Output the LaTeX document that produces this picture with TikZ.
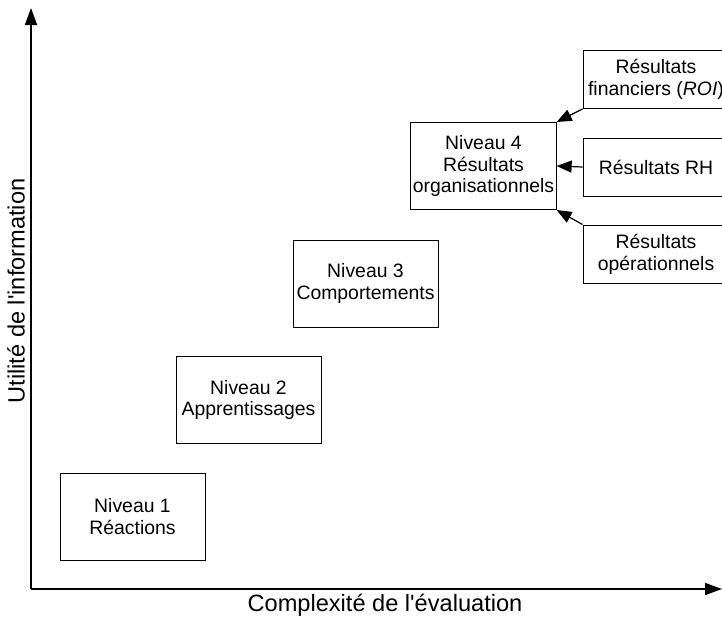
\documentclass[tikz,border=0pt]{standalone}
\usepackage{fontspec}
\setmainfont{Liberation Sans}
\usepackage{tikz}
\usetikzlibrary{arrows.meta, positioning}
\tikzset{
  boite/.style={draw, line width=0.5pt, align=center, minimum width=72.5pt, minimum height=43.5pt, inner sep=1pt, font=\fontsize{9.7}{10.9}\selectfont},
  petite/.style={boite, minimum width=73pt, minimum height=29pt},
  fleche/.style={line width=0.6pt, -{Triangle[length=7.5pt,width=6pt]}},
  axe/.style={line width=0.8pt, -{Triangle[length=8.5pt,width=6pt]}},
  titre/.style={font=\fontsize{11.8}{13}\selectfont}
}

\begin{document}
\begin{tikzpicture}[x=0.5pt, y=-0.5pt]
\useasboundingbox (0,0) rectangle (722,616);
\clip (0,0) rectangle (722,616);
% Axes
\coordinate (o) at (31,589);
\coordinate (ytop) at (31,8);
\coordinate (xend) at (722,589);
\draw[axe] (o) -- (ytop);
\draw[axe] (o) -- (xend);
\node[titre] (xlab) at (385,605) {Complexité de l\textquotesingle évaluation};
\node[titre, rotate=90] (ylab) at (16,291) {Utilité de l\textquotesingle information};

% Niveaux
\node[boite] (niv1) at (132.5,516.5) {Niveau 1\\Réactions};
\node[boite] (niv2) at (248.5,400) {Niveau 2\\Apprentissages};
\node[boite] (niv3) at (365.5,283.5) {Niveau 3\\Comportements};
\node[boite] (niv4) at (483.5,166) {Niveau 4\\Résultats\\organisationnels};

% Résultats
\node[petite] (fin) at (656,79.5) {Résultats\\financiers (\textit{ROI})};
\node[petite] (rh) at (656,167) {Résultats RH};
\node[petite] (ope) at (656,254) {Résultats\\opérationnels};

\draw[fleche] (fin.south west) -- (niv4.north east);
\draw[fleche] (rh.west) -- (niv4.east);
\draw[fleche] (ope.north west) -- (niv4.south east);
\end{tikzpicture}
\end{document}
